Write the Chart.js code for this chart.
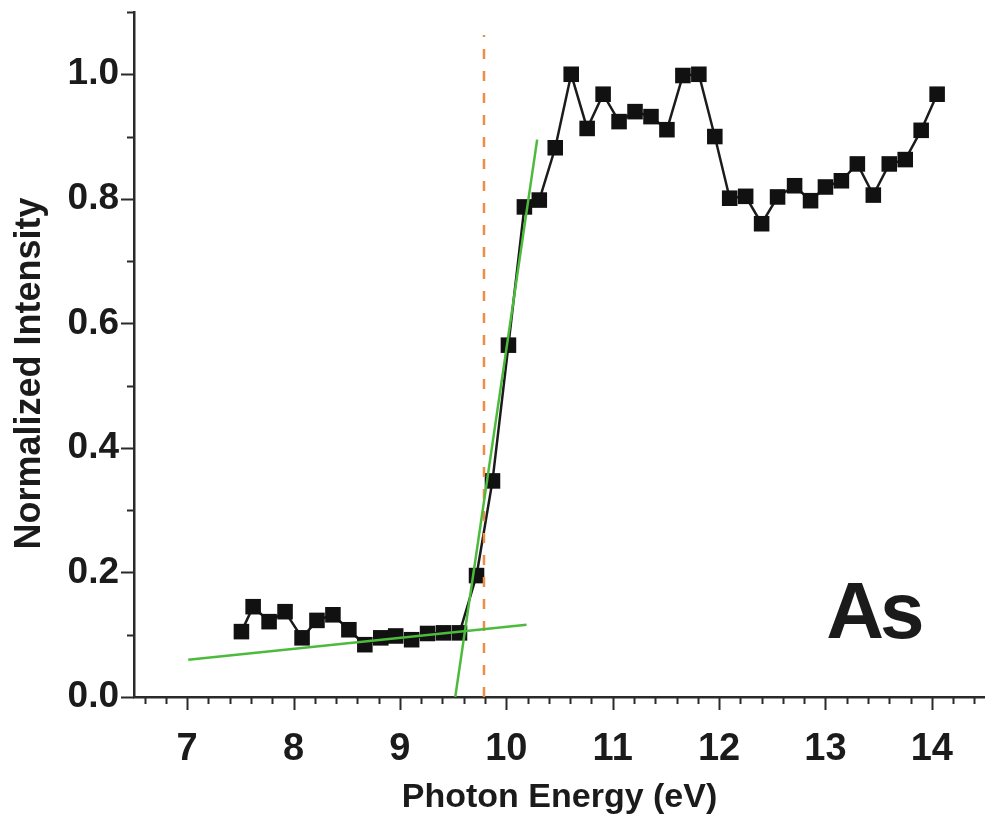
<!DOCTYPE html>
<html>
<head>
<meta charset="utf-8">
<script src="https://cdn.jsdelivr.net/npm/chart.js@4.4.1/dist/chart.umd.min.js"></script>
<style>
    html, body { margin: 0; padding: 0; background: #fff; }
    canvas { display: block; }
</style>
</head>
<body>
<canvas id="chart" width="985" height="824"></canvas>
<script>
// Photon energy (eV) and normalized intensity of the As spectrum
const energy = [
    7.51, 7.62, 7.77, 7.92, 8.08, 8.22, 8.37, 8.52, 8.67, 8.82, 8.96, 9.11, 9.26, 9.41, 9.56,
    9.72, 9.87, 10.02, 10.17, 10.31, 10.46, 10.61, 10.76, 10.91, 11.06, 11.21, 11.36, 11.51,
    11.66, 11.81, 11.96, 12.10, 12.25, 12.40, 12.55, 12.71, 12.86, 13.00, 13.15, 13.30, 13.45,
    13.60, 13.75, 13.90, 14.05
];
const intensity = [
    0.105, 0.145, 0.121, 0.137, 0.095, 0.123, 0.132, 0.108, 0.084, 0.095, 0.098, 0.092, 0.102, 0.103, 0.103,
    0.195, 0.347, 0.565, 0.787, 0.798, 0.882, 1.000, 0.913, 0.968, 0.924, 0.940, 0.932, 0.911,
    0.998, 1.000, 0.900, 0.801, 0.804, 0.760, 0.803, 0.821, 0.797, 0.819, 0.829, 0.856, 0.806,
    0.856, 0.863, 0.910, 0.968
];

// linear fits: pre-edge baseline and rising edge
const baseFitX = [7.01, 10.19];
const baseFitY = [0.060, 0.116];
const edgeFitX = [9.52, 10.29];
const edgeFitY = [0.0, 0.895];

// edge onset marker
const onsetX = [9.79, 9.79];
const onsetY = [0.0, 1.063];

// axis ranges and labelled ticks
const xRange = [6.5, 14.5];
const yRange = [0, 1.1];
const xMajor = [7, 8, 9, 10, 11, 12, 13, 14];
const yMajor = [0.0, 0.2, 0.4, 0.6, 0.8, 1.0];

const elementLabel = 'As';
const elementLabelAt = { x: 13.45, y: 0.095 };

const ink = '#1b1b1b';
const axisColor = '#2a2a2a';
const sans = "'Liberation Sans', Arial, Helvetica, sans-serif";
const narrow = "'Liberation Sans Narrow', 'Arial Narrow', 'Liberation Sans', Arial, sans-serif";

function pairs(xs, ys) {
    return xs.map((x, i) => ({ x: x, y: ys[i] }));
}

function isMajor(list, v) {
    return list.some(m => Math.abs(m - v) < 1e-9);
}

// fixed axis box size, and no extra room reserved around the plot for labels
function fixBox(prop, size) {
    return s => {
        s[prop] = size;
        s.paddingTop = s.paddingBottom = s.paddingLeft = s.paddingRight = 0;
    };
}

// tick marks (major + minor) pointing outward, y title and element label
const axisDecor = {
    id: 'axisDecor',
    afterDraw(chart) {
        const ctx = chart.ctx;
        const xs = chart.scales.x, ys = chart.scales.y;
        const area = chart.chartArea;
        ctx.save();
        ctx.strokeStyle = axisColor;
        ctx.lineWidth = 2;
        ctx.beginPath();
        for (let k = 33; k <= 72; k++) {
            const px = Math.round(xs.getPixelForValue(k / 5)) + 0.5;
            const len = k % 5 === 0 ? 13 : 7;
            ctx.moveTo(px, area.bottom);
            ctx.lineTo(px, area.bottom + len);
        }
        for (let k = 0; k <= 11; k++) {
            const py = Math.round(ys.getPixelForValue(k / 10)) + 0.5;
            const len = k % 2 === 0 ? 13 : 7;
            ctx.moveTo(area.left, py);
            ctx.lineTo(area.left - len, py);
        }
        ctx.stroke();

        // y axis title
        ctx.fillStyle = ink;
        ctx.font = "bold 36px " + narrow;
        ctx.textAlign = 'center';
        ctx.textBaseline = 'middle';
        ctx.translate(30, (area.top + area.bottom) / 2 + 19);
        ctx.rotate(-Math.PI / 2);
        ctx.fillText('Normalized Intensity', 0, 0);
        ctx.restore();

        ctx.save();
        ctx.fillStyle = ink;
        ctx.font = "bold 80px " + sans;
        ctx.textAlign = 'center';
        ctx.textBaseline = 'alphabetic';
        ctx.letterSpacing = '-4px';
        ctx.fillText(elementLabel, xs.getPixelForValue(elementLabelAt.x), ys.getPixelForValue(elementLabelAt.y));
        ctx.restore();
    }
};

const ctx = document.getElementById('chart').getContext('2d');
const chart = new Chart(ctx, {
    type: 'scatter',
    data: {
        datasets: [
            {
                label: 'As',
                data: pairs(energy, intensity),
                showLine: true,
                borderColor: ink,
                borderWidth: 2.5,
                pointStyle: 'rect',
                pointRadius: 11,
                pointBackgroundColor: '#111',
                pointBorderColor: '#111',
                pointBorderWidth: 0,
                order: 3
            },
            {
                label: 'onset',
                data: pairs(onsetX, onsetY),
                showLine: true,
                borderColor: 'rgb(240, 140, 70)',
                borderWidth: 2.5,
                borderDash: [10, 12],
                pointRadius: 0,
                order: 2
            },
            {
                label: 'baseline fit',
                data: pairs(baseFitX, baseFitY),
                showLine: true,
                borderColor: 'rgb(76, 187, 60)',
                borderWidth: 2.5,
                pointRadius: 0,
                order: 1
            },
            {
                label: 'edge fit',
                data: pairs(edgeFitX, edgeFitY),
                showLine: true,
                borderColor: 'rgb(76, 187, 60)',
                borderWidth: 2.5,
                pointRadius: 0,
                order: 1
            }
        ]
    },
    options: {
        responsive: false,
        animation: false,
        layout: { autoPadding: false, padding: { top: 12, right: 0, left: 0, bottom: 0 } },
        plugins: {
            legend: { display: false },
            tooltip: { enabled: false }
        },
        scales: {
            x: {
                type: 'linear',
                min: xRange[0],
                max: xRange[1],
                afterFit: fixBox('height', 127),
                afterBuildTicks: s => { s.ticks = xMajor.map(v => ({ value: v })); },
                grid: { display: true, drawOnChartArea: false, drawTicks: false },
                border: { display: true, color: axisColor, width: 2.5 },
                ticks: {
                    padding: 30,
                    color: ink,
                    maxRotation: 0,
                    autoSkip: false,
                    font: { family: narrow, size: 38, weight: 'bold' },
                    callback: v => String(v)
                },
                title: {
                    display: true,
                    text: 'Photon Energy (eV)',
                    color: ink,
                    padding: { top: 0, bottom: 6 },
                    font: { family: sans, size: 34, weight: 'bold' }
                }
            },
            y: {
                type: 'linear',
                min: yRange[0],
                max: yRange[1],
                afterFit: fixBox('width', 134),
                afterBuildTicks: s => { s.ticks = yMajor.map(v => ({ value: v })); },
                grid: { display: true, drawOnChartArea: false, drawTicks: false },
                border: { display: true, color: axisColor, width: 2.5 },
                ticks: {
                    padding: 15,
                    color: ink,
                    autoSkip: false,
                    font: { family: sans, size: 37, weight: 'bold' },
                    callback: v => isMajor(yMajor, v) ? v.toFixed(1) : null
                }
            }
        }
    },
    plugins: [axisDecor]
});
</script>
</body>
</html>
